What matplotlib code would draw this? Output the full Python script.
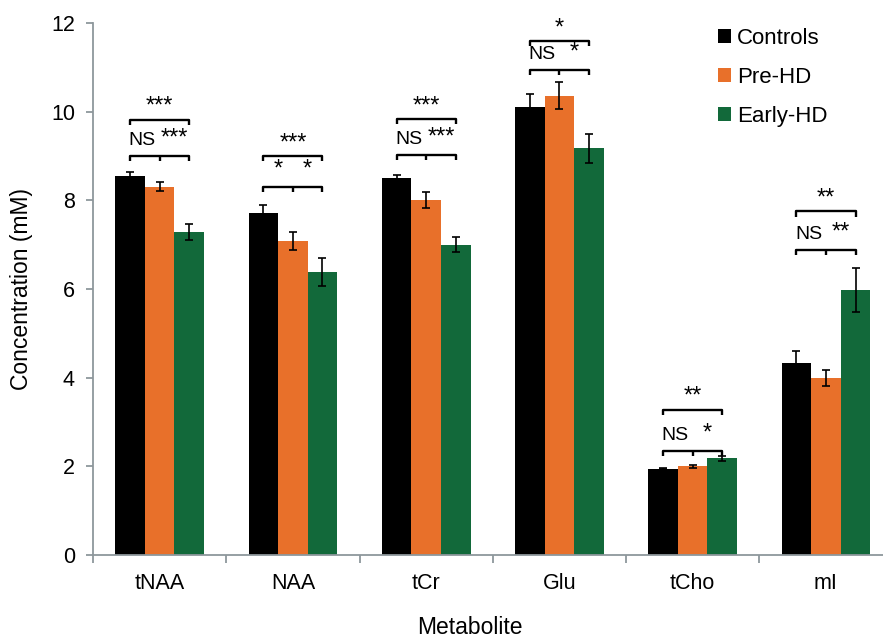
#!/usr/bin/env python3
# -*- coding: utf-8 -*-

"""Metabolite concentrations per group, bars with error bars and significance brackets"""

import numpy as np
import matplotlib
matplotlib.use('Agg')
import matplotlib.pyplot as plt

plt.rcParams['font.family'] = ['Liberation Sans', 'DejaVu Sans']

# Data
metabolites = ['tNAA', 'NAA', 'tCr', 'Glu', 'tCho', 'mI']
groups = ['Controls', 'Pre-HD', 'Early-HD']
controls = [8.56, 7.71, 8.50, 10.11, 1.95, 4.33]
pre_hd = [8.31, 7.08, 8.00, 10.36, 2.00, 4.00]
early_hd = [7.28, 6.38, 7.00, 9.17, 2.18, 5.98]
controls_err = [0.08, 0.18, 0.07, 0.29, 0.02, 0.27]
pre_hd_err = [0.10, 0.20, 0.18, 0.31, 0.03, 0.18]
early_hd_err = [0.18, 0.31, 0.17, 0.32, 0.05, 0.50]

# Significance labels: (controls vs pre, pre vs early), controls vs early
pair_labels = [('NS', '***'), ('*', '*'), ('NS', '***'), ('NS', '*'), ('NS', '*'), ('NS', '**')]
outer_labels = ['***', '***', '***', '*', '**', '**']
lower_level = [9.00, 8.31, 9.03, 10.94, 2.35, 6.88]
upper_level = [9.82, 9.00, 9.84, 11.60, 3.28, 7.75]

colors = ['#000000', '#E8702A', '#12693A']


def bracket(ax, x0, x1, y, mid=None):
    """Draw a significance bracket with end ticks pointing down"""
    tick = 0.12
    kw = dict(color='black', lw=1.7, solid_capstyle='butt')
    ax.plot([x0, x0, x1, x1], [y - tick, y, y, y - tick], **kw)
    if mid is not None:
        ax.plot([mid, mid], [y, y - tick], **kw)


def sig_text(ax, x, y, label):
    """Place NS or star label; stars are drawn a bit bigger"""
    if label == 'NS':
        ax.text(x - 0.02, y, label, ha='center', va='baseline', fontsize=14)
    else:
        ax.text(x, y, label, ha='center', va='baseline', fontsize=17)


def main():
    fig = plt.figure(figsize=(8.83, 6.4), dpi=100)
    ax = fig.add_axes([93 / 883, 85 / 640, 799.6 / 883, 532 / 640])

    ind = np.arange(len(metabolites))
    width = 0.222
    series = [controls, pre_hd, early_hd]
    errs = [controls_err, pre_hd_err, early_hd_err]

    for i, (vals, err) in enumerate(zip(series, errs)):
        ax.bar(ind + (i - 1) * width, vals, width, color=colors[i], label=groups[i],
               yerr=err, error_kw=dict(ecolor='black', elinewidth=1.2, capsize=3, capthick=1.2))

    # Significance brackets
    for k in range(len(metabolites)):
        xa, xb, xc = ind[k] - width, ind[k], ind[k] + width
        bracket(ax, xa, xc, lower_level[k], mid=xb)
        bracket(ax, xa, xc, upper_level[k])
        sig_text(ax, (xa + xb) / 2, lower_level[k] + 0.25, pair_labels[k][0])
        sig_text(ax, (xb + xc) / 2, lower_level[k] + 0.25, pair_labels[k][1])
        sig_text(ax, xb, upper_level[k] + 0.15, outer_labels[k])

    ax.set_xlim(-0.5, len(metabolites) - 0.5)
    ax.set_ylim(0, 12)
    ax.set_yticks(np.arange(0, 13, 2))
    ax.set_xticks(ind)
    ax.set_xticklabels(metabolites)
    ax.set_xticks(np.arange(-0.5, len(metabolites), 1), minor=True)

    for side in ['top', 'right']:
        ax.spines[side].set_visible(False)
    for side in ['left', 'bottom']:
        ax.spines[side].set_color('#8E979C')
        ax.spines[side].set_linewidth(1.3)

    ax.tick_params(axis='x', which='major', length=0, pad=13, labelsize=15.5)
    ax.tick_params(axis='x', which='minor', length=6, width=1.3, color='#8E979C', direction='out')
    ax.tick_params(axis='y', length=5, width=1.3, color='#8E979C', pad=8, labelsize=15.5)

    fig.text(22 / 883, 1 - 289 / 640, 'Concentration (mM)', rotation=90, ha='center',
             va='center', fontsize=16.5)
    fig.text(470 / 883, 1 - 628 / 640, 'Metabolite', ha='center', va='center', fontsize=16.5)

    ax.legend(loc='upper left', bbox_to_anchor=(707 / 883, 1 - 17 / 640),
              bbox_transform=fig.transFigure, frameon=False, fontsize=16,
              handlelength=0.6, handleheight=0.6, handletextpad=0.25,
              labelspacing=0.8, borderpad=0)

    fig.savefig('out.png', dpi=100)


if __name__ == "__main__":
    main()
